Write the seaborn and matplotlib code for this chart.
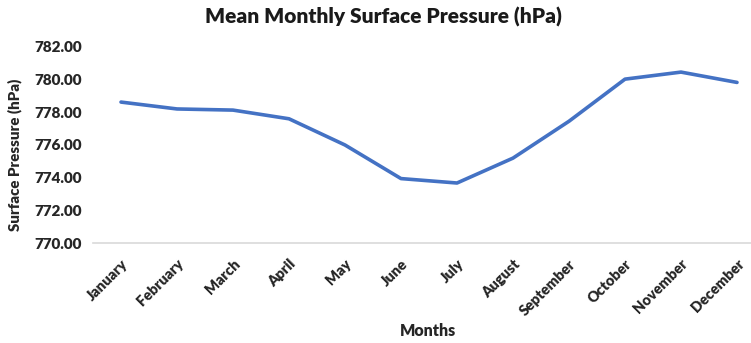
import matplotlib
matplotlib.use("Agg")
import matplotlib.pyplot as plt
import seaborn as sns
import pandas as pd

months = ["January", "February", "March", "April", "May", "June",
          "July", "August", "September", "October", "November", "December"]
pressure_hpa = [778.62, 778.20, 778.13, 777.60, 776.00, 773.95,
                773.68, 775.20, 777.45, 780.02, 780.45, 779.82]
y_ticks = [770, 772, 774, 776, 778, 780, 782]

df = pd.DataFrame({"Month": months, "Pressure": pressure_hpa})
df["pos"] = range(len(months))

sns.set_theme(style="white")
plt.rcParams["font.family"] = ["Lato", "DejaVu Sans"]

fig = plt.figure(figsize=(7.51, 3.43), dpi=100)
ax = fig.add_axes([93 / 751, 1 - 243.3 / 343, (751 - 93) / 751, (243.3 - 46.7) / 343])

sns.lineplot(data=df, x="pos", y="Pressure", ax=ax, color="#4472C4",
             linewidth=2.6, solid_capstyle="round")

ax.set_xlim(-0.5, 11.25)
ax.set_ylim(770, 782)
ax.set_yticks(y_ticks)
ax.set_yticklabels([f"{v:.2f}" for v in y_ticks], fontsize=11, fontweight="heavy", color="#262626")
ax.set_xticks(df["pos"])
ax.set_xticklabels(months, rotation=45, ha="right", rotation_mode="anchor",
                   fontsize=10.5, fontweight="heavy", color="#262626")
ax.tick_params(axis="y", length=0, pad=8)
ax.tick_params(axis="x", length=0, pad=10)

for side in ["top", "right", "left"]:
    ax.spines[side].set_visible(False)
ax.spines["bottom"].set_color("#D9D9D9")
ax.spines["bottom"].set_linewidth(1.2)

ax.set_xlabel("")
ax.set_ylabel("")
fig.text(428 / 751, 1 - 331 / 343, "Months", ha="center", va="center",
         fontsize=11.5, fontweight="heavy", color="#262626")
fig.text(15 / 751, 1 - 155 / 343, "Surface Pressure (hPa)", ha="center", va="center",
         rotation=90, fontsize=10.8, fontweight="heavy", color="#262626")

fig.text(383 / 751, 1 - 17 / 343, "Mean Monthly Surface Pressure (hPa)",
         ha="center", va="center", fontsize=15, fontweight="heavy", color="#1a1a1a")

fig.savefig("out.png", dpi=100, facecolor="white")
